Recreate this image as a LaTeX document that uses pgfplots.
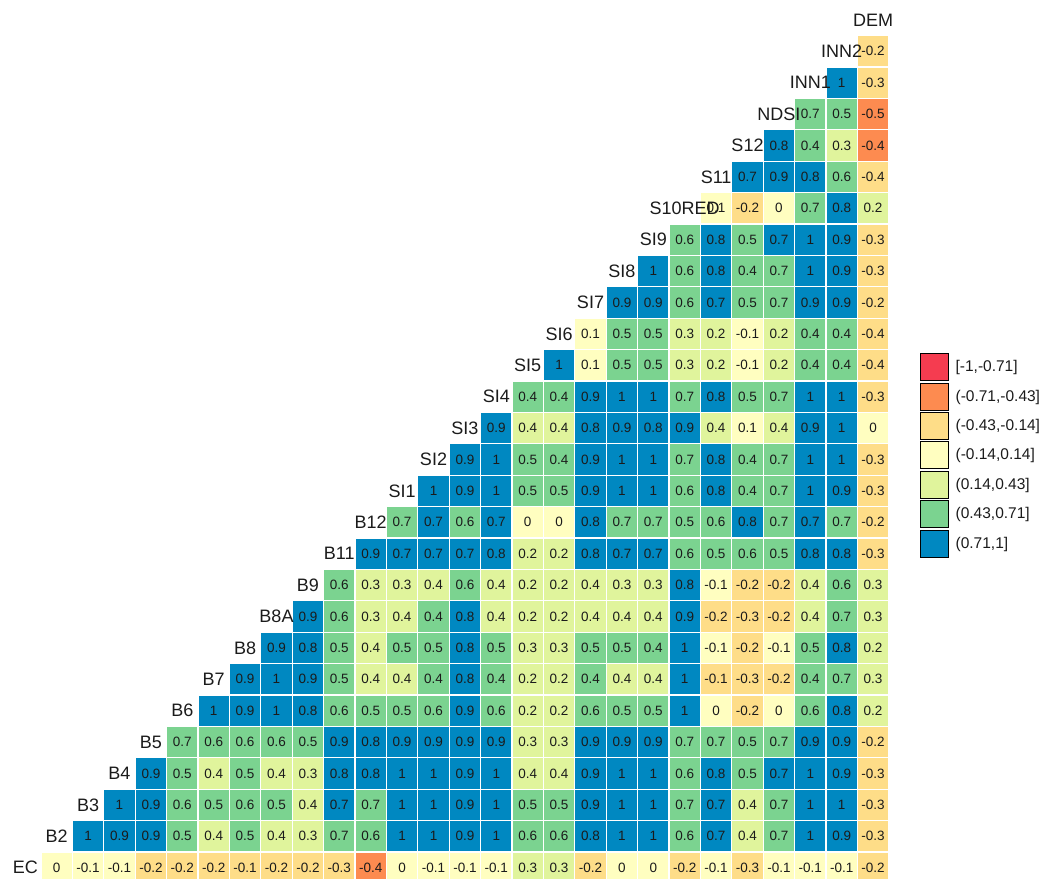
\documentclass[border=0pt]{standalone}
\usepackage{fontspec}
\setmainfont{Liberation Sans}
\usepackage{pgfplots}
\usepackage{pgfplotstable}
\pgfplotsset{compat=1.18}

% binned colours, strongest negative to strongest positive
\definecolor{binA}{HTML}{F53C50}
\definecolor{binB}{HTML}{FD8B50}
\definecolor{binC}{HTML}{FEDD88}
\definecolor{binD}{HTML}{FFFEC0}
\definecolor{binE}{HTML}{E0F49C}
\definecolor{binF}{HTML}{7BD390}
\definecolor{binG}{HTML}{0088C1}
\definecolor{txt}{HTML}{1B1B1B}

% c = column (B2=1 ... DEM=27), r = row (EC=0 ... INN2=26), k = colour bin
\pgfplotstableread{
c r k lab
1 0 4 0
2 0 4 -0.1
3 0 4 -0.1
4 0 3 -0.2
5 0 3 -0.2
6 0 3 -0.2
7 0 3 -0.1
8 0 3 -0.2
9 0 3 -0.2
10 0 3 -0.3
11 0 2 -0.4
12 0 4 0
13 0 4 -0.1
14 0 4 -0.1
15 0 4 -0.1
16 0 5 0.3
17 0 5 0.3
18 0 3 -0.2
19 0 4 0
20 0 4 0
21 0 3 -0.2
22 0 4 -0.1
23 0 3 -0.3
24 0 4 -0.1
25 0 4 -0.1
26 0 4 -0.1
27 0 3 -0.2
2 1 7 1
3 1 7 0.9
4 1 7 0.9
5 1 6 0.5
6 1 5 0.4
7 1 6 0.5
8 1 5 0.4
9 1 5 0.3
10 1 6 0.7
11 1 6 0.6
12 1 7 1
13 1 7 1
14 1 7 0.9
15 1 7 1
16 1 6 0.6
17 1 6 0.6
18 1 7 0.8
19 1 7 1
20 1 7 1
21 1 6 0.6
22 1 7 0.7
23 1 5 0.4
24 1 6 0.7
25 1 7 1
26 1 7 0.9
27 1 3 -0.3
3 2 7 1
4 2 7 0.9
5 2 6 0.6
6 2 6 0.5
7 2 6 0.6
8 2 6 0.5
9 2 5 0.4
10 2 7 0.7
11 2 6 0.7
12 2 7 1
13 2 7 1
14 2 7 0.9
15 2 7 1
16 2 6 0.5
17 2 6 0.5
18 2 7 0.9
19 2 7 1
20 2 7 1
21 2 6 0.7
22 2 7 0.7
23 2 5 0.4
24 2 6 0.7
25 2 7 1
26 2 7 1
27 2 3 -0.3
4 3 7 0.9
5 3 6 0.5
6 3 5 0.4
7 3 6 0.5
8 3 5 0.4
9 3 5 0.3
10 3 7 0.8
11 3 7 0.8
12 3 7 1
13 3 7 1
14 3 7 0.9
15 3 7 1
16 3 5 0.4
17 3 5 0.4
18 3 7 0.9
19 3 7 1
20 3 7 1
21 3 6 0.6
22 3 7 0.8
23 3 6 0.5
24 3 7 0.7
25 3 7 1
26 3 7 0.9
27 3 3 -0.3
5 4 6 0.7
6 4 6 0.6
7 4 6 0.6
8 4 6 0.6
9 4 6 0.5
10 4 7 0.9
11 4 7 0.8
12 4 7 0.9
13 4 7 0.9
14 4 7 0.9
15 4 7 0.9
16 4 5 0.3
17 4 5 0.3
18 4 7 0.9
19 4 7 0.9
20 4 7 0.9
21 4 6 0.7
22 4 6 0.7
23 4 6 0.5
24 4 6 0.7
25 4 7 0.9
26 4 7 0.9
27 4 3 -0.2
6 5 7 1
7 5 7 0.9
8 5 7 1
9 5 7 0.8
10 5 6 0.6
11 5 6 0.5
12 5 6 0.5
13 5 6 0.6
14 5 7 0.9
15 5 6 0.6
16 5 5 0.2
17 5 5 0.2
18 5 6 0.6
19 5 6 0.5
20 5 6 0.5
21 5 7 1
22 5 4 0
23 5 3 -0.2
24 5 4 0
25 5 6 0.6
26 5 7 0.8
27 5 5 0.2
7 6 7 0.9
8 6 7 1
9 6 7 0.9
10 6 6 0.5
11 6 5 0.4
12 6 5 0.4
13 6 6 0.4
14 6 7 0.8
15 6 6 0.4
16 6 5 0.2
17 6 5 0.2
18 6 6 0.4
19 6 5 0.4
20 6 5 0.4
21 6 7 1
22 6 3 -0.1
23 6 3 -0.3
24 6 3 -0.2
25 6 6 0.4
26 6 6 0.7
27 6 5 0.3
8 7 7 0.9
9 7 7 0.8
10 7 6 0.5
11 7 5 0.4
12 7 6 0.5
13 7 6 0.5
14 7 7 0.8
15 7 6 0.5
16 7 5 0.3
17 7 5 0.3
18 7 6 0.5
19 7 6 0.5
20 7 6 0.4
21 7 7 1
22 7 4 -0.1
23 7 3 -0.2
24 7 4 -0.1
25 7 6 0.5
26 7 7 0.8
27 7 5 0.2
9 8 7 0.9
10 8 6 0.6
11 8 5 0.3
12 8 5 0.4
13 8 6 0.4
14 8 7 0.8
15 8 5 0.4
16 8 5 0.2
17 8 5 0.2
18 8 5 0.4
19 8 5 0.4
20 8 5 0.4
21 8 7 0.9
22 8 3 -0.2
23 8 3 -0.3
24 8 3 -0.2
25 8 5 0.4
26 8 6 0.7
27 8 5 0.3
10 9 6 0.6
11 9 5 0.3
12 9 5 0.3
13 9 5 0.4
14 9 6 0.6
15 9 5 0.4
16 9 5 0.2
17 9 5 0.2
18 9 5 0.4
19 9 5 0.3
20 9 5 0.3
21 9 7 0.8
22 9 4 -0.1
23 9 3 -0.2
24 9 3 -0.2
25 9 5 0.4
26 9 6 0.6
27 9 5 0.3
11 10 7 0.9
12 10 7 0.7
13 10 7 0.7
14 10 7 0.7
15 10 7 0.8
16 10 5 0.2
17 10 5 0.2
18 10 7 0.8
19 10 7 0.7
20 10 7 0.7
21 10 6 0.6
22 10 6 0.5
23 10 6 0.6
24 10 6 0.5
25 10 7 0.8
26 10 7 0.8
27 10 3 -0.3
12 11 6 0.7
13 11 7 0.7
14 11 6 0.6
15 11 7 0.7
16 11 4 0
17 11 4 0
18 11 7 0.8
19 11 6 0.7
20 11 6 0.7
21 11 6 0.5
22 11 6 0.6
23 11 7 0.8
24 11 6 0.7
25 11 7 0.7
26 11 6 0.7
27 11 3 -0.2
13 12 7 1
14 12 7 0.9
15 12 7 1
16 12 6 0.5
17 12 6 0.5
18 12 7 0.9
19 12 7 1
20 12 7 1
21 12 6 0.6
22 12 7 0.8
23 12 6 0.4
24 12 6 0.7
25 12 7 1
26 12 7 0.9
27 12 3 -0.3
14 13 7 0.9
15 13 7 1
16 13 6 0.5
17 13 6 0.4
18 13 7 0.9
19 13 7 1
20 13 7 1
21 13 6 0.7
22 13 7 0.8
23 13 6 0.4
24 13 6 0.7
25 13 7 1
26 13 7 1
27 13 3 -0.3
15 14 7 0.9
16 14 5 0.4
17 14 5 0.4
18 14 7 0.8
19 14 7 0.9
20 14 7 0.8
21 14 7 0.9
22 14 5 0.4
23 14 4 0.1
24 14 5 0.4
25 14 7 0.9
26 14 7 1
27 14 4 0
16 15 6 0.4
17 15 6 0.4
18 15 7 0.9
19 15 7 1
20 15 7 1
21 15 6 0.7
22 15 7 0.8
23 15 6 0.5
24 15 6 0.7
25 15 7 1
26 15 7 1
27 15 3 -0.3
17 16 7 1
18 16 4 0.1
19 16 6 0.5
20 16 6 0.5
21 16 5 0.3
22 16 5 0.2
23 16 4 -0.1
24 16 5 0.2
25 16 6 0.4
26 16 6 0.4
27 16 3 -0.4
18 17 4 0.1
19 17 6 0.5
20 17 6 0.5
21 17 5 0.3
22 17 5 0.2
23 17 4 -0.1
24 17 5 0.2
25 17 6 0.4
26 17 6 0.4
27 17 3 -0.4
19 18 7 0.9
20 18 7 0.9
21 18 6 0.6
22 18 7 0.7
23 18 6 0.5
24 18 6 0.7
25 18 7 0.9
26 18 7 0.9
27 18 3 -0.2
20 19 7 1
21 19 6 0.6
22 19 7 0.8
23 19 6 0.4
24 19 6 0.7
25 19 7 1
26 19 7 0.9
27 19 3 -0.3
21 20 6 0.6
22 20 7 0.8
23 20 6 0.5
24 20 7 0.7
25 20 7 1
26 20 7 0.9
27 20 3 -0.3
22 21 4 0.1
23 21 3 -0.2
24 21 4 0
25 21 6 0.7
26 21 7 0.8
27 21 5 0.2
23 22 7 0.7
24 22 7 0.9
25 22 7 0.8
26 22 6 0.6
27 22 3 -0.4
24 23 7 0.8
25 23 6 0.4
26 23 5 0.3
27 23 2 -0.4
25 24 6 0.7
26 24 6 0.5
27 24 2 -0.5
26 25 7 1
27 25 3 -0.3
27 26 3 -0.2
}\cells

% variable names on the diagonal
\pgfplotstableread{
c r name
0 0 EC
1 1 B2
2 2 B3
3 3 B4
4 4 B5
5 5 B6
6 6 B7
7 7 B8
8 8 B8A
9 9 B9
10 10 B11
11 11 B12
12 12 SI1
13 13 SI2
14 14 SI3
15 15 SI4
16 16 SI5
17 17 SI6
18 18 SI7
19 19 SI8
20 20 SI9
21 21 S10RED
22 22 S11
23 23 S12
24 24 NDSI
25 25 INN1
26 26 INN2
27 27 DEM
}\names

\begin{document}
\begin{tikzpicture}
\begin{axis}[
  at={(9.6pt,-5.4pt)}, anchor=south west,
  x=31.4pt, y=31.4pt,
  xmin=-0.5, xmax=27.5, ymin=-0.5, ymax=27.5,
  hide axis, clip=false,
  legend image code/.code={\fill[#1] (0pt,-13.5pt) rectangle (28pt,13.5pt);
                           \path (35pt,0pt);},
  legend style={at={(1.0355,0.6033)}, anchor=north west,
                draw=none, fill=none, inner sep=0pt, row sep=2pt,
                font=\fontsize{15.5}{15.5}\selectfont, text=txt,
                nodes={inner sep=0pt}},
  legend cell align=left,
]
% coloured tiles
\addplot[scatter, only marks, forget plot,
  mark size=15.7pt, line width=1.2pt,
  scatter src=explicit symbolic,
  scatter/classes={
    1={mark=square*,draw=white,fill=binA},
    2={mark=square*,draw=white,fill=binB},
    3={mark=square*,draw=white,fill=binC},
    4={mark=square*,draw=white,fill=binD},
    5={mark=square*,draw=white,fill=binE},
    6={mark=square*,draw=white,fill=binF},
    7={mark=square*,draw=white,fill=binG}},
] table[x=c, y=r, meta=k] {\cells};

% rounded coefficients in the tiles
\addplot[draw=none, mark=none, forget plot,
  point meta=explicit symbolic, nodes near coords,
  every node near coord/.append style={font=\fontsize{13.5}{13.5}\selectfont,
                                       text=txt, anchor=center},
] table[x=c, y=r, meta=lab] {\cells};

% variable names on the diagonal
\addplot[draw=none, mark=none, forget plot,
  point meta=explicit symbolic, nodes near coords,
  every node near coord/.append style={font=\fontsize{18}{18}\selectfont,
                                       text=txt, anchor=center},
] table[x=c, y=r, meta=name] {\names};

\addlegendimage{fill=binA}\addlegendentry{{[-1,-0.71]}}
\addlegendimage{fill=binB}\addlegendentry{{(-0.71,-0.43]}}
\addlegendimage{fill=binC}\addlegendentry{{(-0.43,-0.14]}}
\addlegendimage{fill=binD}\addlegendentry{{(-0.14,0.14]}}
\addlegendimage{fill=binE}\addlegendentry{{(0.14,0.43]}}
\addlegendimage{fill=binF}\addlegendentry{{(0.43,0.71]}}
\addlegendimage{fill=binG}\addlegendentry{{(0.71,1]}}
\end{axis}
\pgfresetboundingbox
\path[use as bounding box] (0,0) rectangle (1041pt,878pt);
\end{tikzpicture}
\end{document}
